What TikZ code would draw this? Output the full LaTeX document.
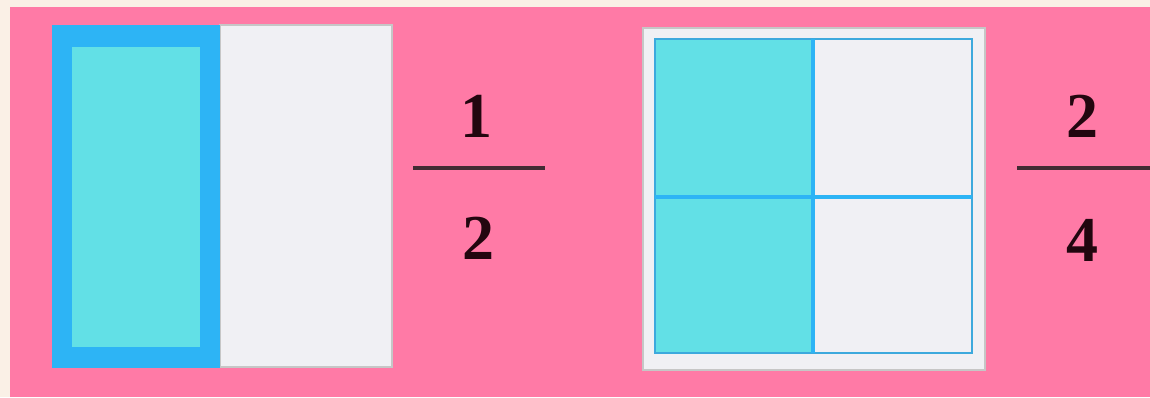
\documentclass[tikz,border=0pt]{standalone}
\usepackage{fontspec}
\setmainfont{Liberation Serif}
\definecolor{cream}{HTML}{FAF0E6}
\definecolor{bgpink}{HTML}{FF7AA6}
\definecolor{tcyan}{HTML}{62E0E6}
\definecolor{tblue}{HTML}{2DB4F5}
\definecolor{pale}{HTML}{F0F0F4}
\definecolor{ink}{HTML}{22060F}
\begin{document}
\begin{tikzpicture}[x=1pt,y=-1pt,
  digit/.style={text=ink,font=\fontsize{64}{64}\selectfont\bfseries,inner sep=0pt},
  barline/.style={draw=ink!85,line width=3.5pt},
  frameline/.style={draw=gray!45,line width=1.5pt}]
\useasboundingbox (0,0) rectangle (1150,397);
\fill[cream] (0,0) rectangle (1150,397);
\fill[bgpink] (10,7) rectangle (1150,397);
% left model: one half shaded
\fill[pale] (220,25) rectangle (392,367);
\draw[frameline] (220,25) rectangle (392,367);
\fill[tblue] (52,25) rectangle (220,368);
\fill[tcyan] (72,47) rectangle (200,347);
% fraction 1/2
\node[digit] (n1) at (476,116) {1};
\node[digit] (d1) at (478,238) {2};
\coordinate (b1l) at (413,168);
\coordinate (b1r) at (545,168);
\draw[barline] (b1l) -- (b1r);
% right model: two quarters shaded
\fill[pale] (643,28) rectangle (985,370);
\draw[frameline] (643,28) rectangle (985,370);
\fill[pale] (655,39) rectangle (972,353);
\fill[tcyan] (655,39) rectangle (813,353);
\draw[draw=tblue!80!gray,line width=1.5pt] (655,39) rectangle (972,353);
\draw[tblue,line width=3.5pt] (813,39) -- (813,353);
\draw[tblue,line width=3.5pt] (655,197) -- (972,197);
% fraction 2/4
\node[digit] (n2) at (1082,116) {2};
\node[digit] (d2) at (1082,240) {4};
\coordinate (b2l) at (1017,168);
\coordinate (b2r) at (1150,168);
\draw[barline] (b2l) -- (b2r);
\end{tikzpicture}
\end{document}
